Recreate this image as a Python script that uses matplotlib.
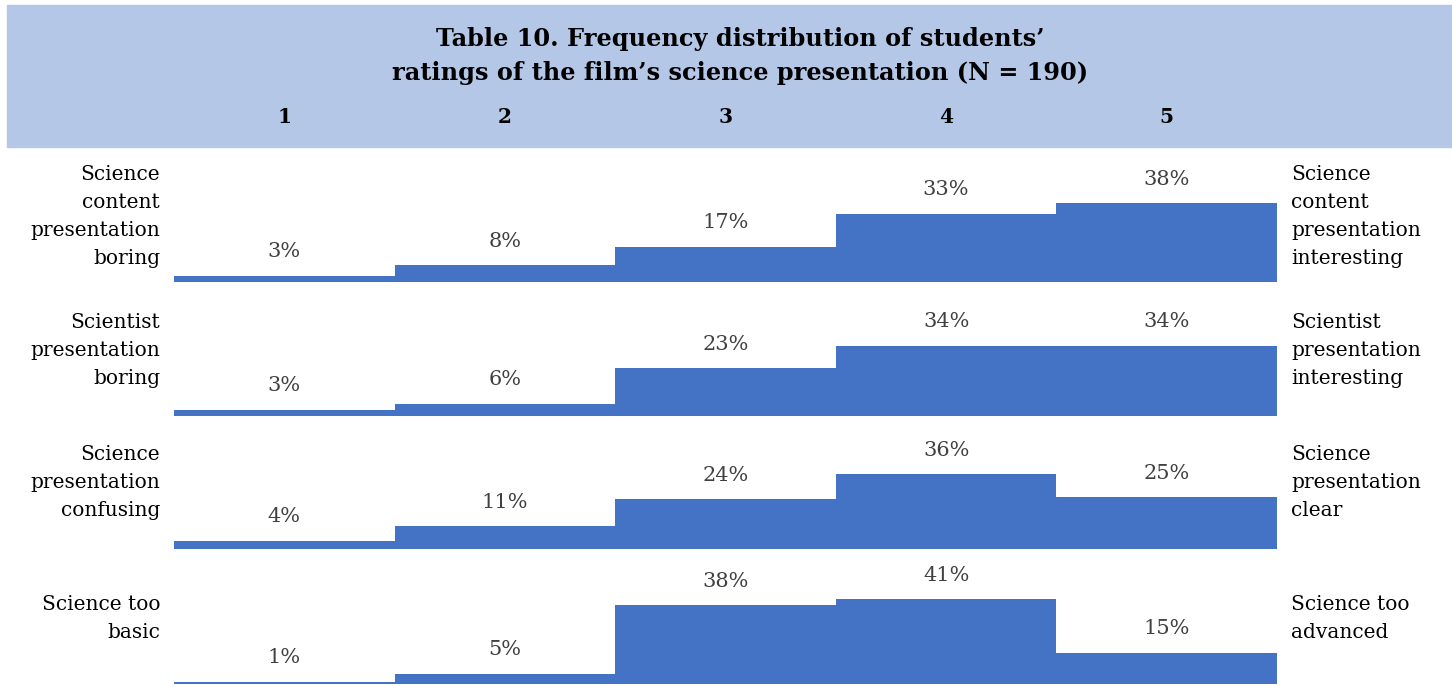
import matplotlib.pyplot as plt
from matplotlib.patches import Rectangle

plt.rcParams['font.family'] = ['DejaVu Serif']

title = "Table 10. Frequency distribution of students\u2019\nratings of the film\u2019s science presentation (N = 190)"
ratings = ["1", "2", "3", "4", "5"]
left_labels = ["Science\ncontent\npresentation\nboring",
               "Scientist\npresentation\nboring",
               "Science\npresentation\nconfusing",
               "Science too\nbasic"]
right_labels = ["Science\ncontent\npresentation\ninteresting",
                "Scientist\npresentation\ninteresting",
                "Science\npresentation\nclear",
                "Science too\nadvanced"]
row1 = [3, 8, 17, 33, 38]
row2 = [3, 6, 23, 34, 34]
row3 = [4, 11, 24, 36, 25]
row4 = [1, 5, 38, 41, 15]
rows = [row1, row2, row3, row4]

W, H = 1452, 686
fig = plt.figure(figsize=(W / 100, H / 100), dpi=100)
blue = "#4472C4"

# header band
fig.patches.append(Rectangle((7 / W, 1 - 147 / H), 1 - 7 / W, 142 / H,
                             transform=fig.transFigure, color="#B4C7E7", zorder=0))
fig.text(740 / W, 1 - 56 / H, title, ha="center", va="center", fontsize=17.3,
         fontweight="bold", linespacing=1.5)

x0, x1 = 174, 1277
baselines = [282, 416, 549, 684]
px_per_pct = 2.07
row_h = 125

axes = []
for i, vals in enumerate(rows):
    b = baselines[i]
    ax = fig.add_axes([x0 / W, 1 - b / H, (x1 - x0) / W, row_h / H])
    ax.bar(range(len(vals)), vals, width=1.0, align="edge", color=blue, linewidth=0)
    ax.set_xlim(0, len(vals))
    ax.set_ylim(0, row_h / px_per_pct)
    for j, v in enumerate(vals):
        ax.text(j + 0.5, v + 24 / px_per_pct, f"{v}%", ha="center", va="center",
                fontsize=15, color="#404040")
    ax.axis("off")
    fig.text(160 / W, 1 - (b - 66) / H, left_labels[i], ha="right", va="center",
             fontsize=14.5, linespacing=1.6)
    fig.text(1291 / W, 1 - (b - 66) / H, right_labels[i], ha="left", va="center",
             fontsize=14.5, linespacing=1.6)
    axes.append(ax)

# column headers
for j, r in enumerate(ratings):
    xf = (x0 + (j + 0.5) * (x1 - x0) / len(ratings)) / W
    fig.text(xf, 1 - 117 / H, r, ha="center", va="center", fontsize=14.5, fontweight="bold")

fig.savefig("out.png", dpi=100)
